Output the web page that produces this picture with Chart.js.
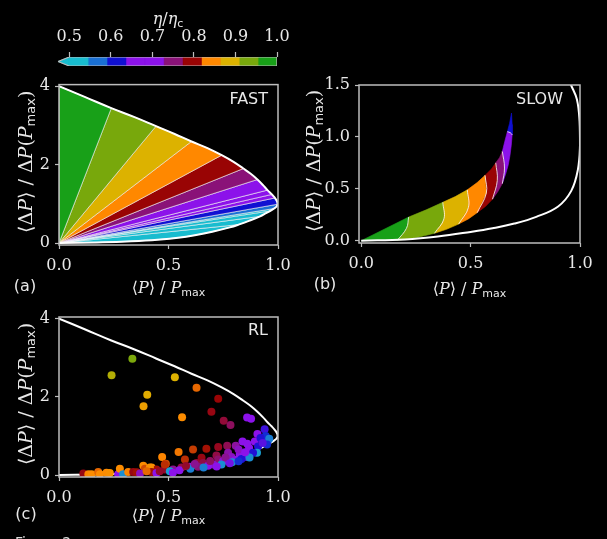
<!DOCTYPE html>
<html>
<head>
<meta charset="utf-8">
<script src="https://cdn.jsdelivr.net/npm/chart.js@4.4.1/dist/chart.umd.min.js"></script>
<style>
  html, body { margin: 0; padding: 0; background: #000; width: 607px; height: 539px; overflow: hidden; }
  canvas { position: absolute; }
  #foot { position: absolute; left: 15px; top: 534px; color: #ddd; font: 14px "DejaVu Sans"; line-height: 16px; }
</style>
</head>
<body>
<canvas id="cbar" width="300" height="75" style="left:0;top:0"></canvas>
<canvas id="fast" width="300" height="235" style="left:0;top:70px"></canvas>
<canvas id="slow" width="307" height="235" style="left:300px;top:70px"></canvas>
<canvas id="rl" width="300" height="239" style="left:0;top:300px"></canvas>
<div id="foot">Figure 2</div>
<script>
// eta / eta_c colour bins (11 bins, extended below 0.5)
const etaEdges = [0.5, 0.5455, 0.5909, 0.6364, 0.6818, 0.7273, 0.7727, 0.8182, 0.8636, 0.9091, 0.9545, 1.0];
const binColors = ['#18bccf', '#1a70d4', '#1010d2', '#8c12ea', '#8c12ea', '#8a1278', '#990404', '#ff8800', '#dcb200', '#78a80c', '#18a018'];
const cbarTicks = [0.5, 0.6, 0.7, 0.8, 0.9, 1.0];

// FAST: frontier read from (0,4) round the nose to (0,0)
const fastP = [0, 0.12, 0.239, 0.345, 0.443, 0.528, 0.605, 0.678, 0.743, 0.797, 0.842, 0.877, 0.906, 0.931, 0.952, 0.972, 0.986, 0.995, 0.998, 0.993,
  0.982, 0.965, 0.945, 0.918, 0.87, 0.82, 0.78, 0.70, 0.62, 0.553, 0.45, 0.33, 0.2, 0];
const fastD = [4, 3.72, 3.44, 3.21, 2.98, 2.78, 2.59, 2.42, 2.24, 2.07, 1.90, 1.76, 1.62, 1.48, 1.35, 1.24, 1.15, 1.07, 0.99, 0.93,
  0.88, 0.82, 0.76, 0.68, 0.57, 0.47, 0.40, 0.29, 0.20, 0.14, 0.085, 0.045, 0.018, 0];
// wedge edges (indices into the frontier) and the colour bin of each wedge
const fastCuts = [0, 2, 4, 6, 8, 10, 12, 14, 15, 16, 18, 20, 21, 23, 25, 33];
const fastBins = [10, 9, 8, 7, 6, 5, 4, 4, 3, 2, 1, 0, 0, 0, 0];
const fastXTicks = [0, 0.5, 1];
const fastYTicks = [0, 2, 4];

// SLOW: frontier
const slowFrontP = [0, 0.2, 0.35, 0.5, 0.6, 0.7, 0.8, 0.9, 0.96, 0.99, 1.0, 0.998, 0.986, 0.959, 0.93];
const slowFrontD = [0, 0.012, 0.04, 0.085, 0.12, 0.165, 0.23, 0.33, 0.48, 0.68, 0.92, 1.15, 1.36, 1.5, 1.65];
// SLOW: upper and lower edge of the coloured lens, origin to tip
const slowUpP = [0, 0.217, 0.30, 0.373, 0.43, 0.485, 0.53, 0.566, 0.595, 0.615, 0.632, 0.645, 0.656, 0.668, 0.678, 0.687];
const slowUpD = [0, 0.228, 0.30, 0.37, 0.425, 0.49, 0.56, 0.63, 0.69, 0.75, 0.80, 0.86, 0.955, 1.05, 1.13, 1.23];
const slowLoP = [0, 0.165, 0.255, 0.335, 0.39, 0.445, 0.49, 0.53, 0.568, 0.60, 0.625, 0.645, 0.66, 0.672, 0.68, 0.686, 0.69, 0.69, 0.687];
const slowLoD = [0, 0.004, 0.03, 0.072, 0.11, 0.16, 0.21, 0.27, 0.33, 0.40, 0.475, 0.55, 0.64, 0.73, 0.82, 0.92, 1.02, 1.12, 1.23];
// band edges: index on upper edge, index on lower edge, middle point of the white arc
const slowCutUp = [0, 1, 3, 5, 7, 9, 11, 13, 15];
const slowCutLo = [0, 1, 3, 5, 7, 9, 11, 16, 18];
const arcMidP = [0.207, 0.378, 0.49, 0.572, 0.622, 0.655, 0.682];
const arcMidD = [0.12, 0.21, 0.32, 0.46, 0.58, 0.70, 1.04];
const slowBins = [10, 9, 8, 7, 6, 5, 4, 2];
const slowXTicks = [0, 0.5, 1];
const slowYTicks = [0, 0.5, 1, 1.5];

// RL: protocols found by the agent
const rlP = [0.335, 0.24, 0.529, 0.403, 0.386, 0.628, 0.562, 0.727, 0.696, 0.752, 0.783, 0.859, 0.877, 0.939, 0.906, 0.944, 0.954, 0.93, 0.838, 0.894,
  0.471, 0.546, 0.612, 0.673, 0.727, 0.768, 0.807, 0.868, 0.909, 0.904, 0.575, 0.651, 0.719, 0.772, 0.787, 0.727, 0.825, 0.856, 0.886, 0.488,
  0.423, 0.628, 0.658, 0.704, 0.749, 0.803, 0.833, 0.87, 0.445, 0.483, 0.521, 0.559, 0.597, 0.635, 0.681, 0.506, 0.742, 0.60, 0.79, 0.55,
  0.111, 0.134, 0.149, 0.179, 0.187, 0.217, 0.232, 0.27, 0.278, 0.293, 0.316, 0.339, 0.355, 0.385, 0.392, 0.415, 0.423, 0.445, 0.483, 0.46,
  0.52, 0.37, 0.40, 0.92, 0.96, 0.95, 0.93, 0.86, 0.82, 0.85, 0.76, 0.69, 0.62, 0.58, 0.66, 0.72, 0.78, 0.82];
const rlD = [2.97, 2.55, 2.50, 2.05, 1.76, 2.23, 1.48, 1.95, 1.62, 1.39, 1.28, 1.47, 1.44, 1.17, 1.05, 1.00, 0.88, 0.90, 0.86, 0.86,
  0.46, 0.59, 0.65, 0.67, 0.72, 0.75, 0.75, 0.69, 0.73, 0.57, 0.40, 0.44, 0.50, 0.57, 0.46, 0.40, 0.52, 0.46, 0.57, 0.29,
  0.19, 0.31, 0.31, 0.27, 0.35, 0.38, 0.41, 0.45, 0.14, 0.14, 0.14, 0.19, 0.21, 0.21, 0.24, 0.10, 0.27, 0.16, 0.33, 0.12,
  0.04, 0.02, 0.02, 0.08, 0.02, 0.06, 0.05, 0.02, 0.16, 0.02, 0.08, 0.08, 0.07, 0.24, 0.16, 0.19, 0.08, 0.05, 0.27, 0.10,
  0.06, 0.04, 0.10, 0.95, 0.93, 0.78, 0.82, 0.80, 0.65, 0.58, 0.45, 0.36, 0.28, 0.23, 0.19, 0.22, 0.30, 0.35];
const rlEta = [0.93, 0.905, 0.885, 0.88, 0.865, 0.83, 0.845, 0.795, 0.79, 0.775, 0.76, 0.69, 0.69, 0.63, 0.68, 0.60, 0.57, 0.60, 0.70, 0.67,
  0.84, 0.835, 0.815, 0.80, 0.785, 0.765, 0.735, 0.69, 0.62, 0.54, 0.81, 0.79, 0.77, 0.73, 0.72, 0.755, 0.70, 0.64, 0.62, 0.82,
  0.845, 0.78, 0.77, 0.72, 0.71, 0.69, 0.62, 0.55, 0.80, 0.78, 0.74, 0.77, 0.71, 0.75, 0.70, 0.54, 0.55, 0.56, 0.55, 0.69,
  0.79, 0.84, 0.845, 0.83, 0.845, 0.845, 0.85, 0.70, 0.845, 0.55, 0.84, 0.79, 0.80, 0.845, 0.82, 0.85, 0.80, 0.70, 0.81, 0.78,
  0.70, 0.72, 0.83, 0.62, 0.56, 0.60, 0.64, 0.68, 0.72, 0.70, 0.74, 0.76, 0.74, 0.78, 0.56, 0.68, 0.65, 0.60];
const rlXTicks = [0, 0.5, 1];
const rlYTicks = [0, 2, 4];

// ---- helpers ----
const AXIS = '#bdbdbd';
const TXT = '#e8e8e8';
const SERIF = '16px "DejaVu Serif"';
const ITAL = 'italic 16px "DejaVu Serif"';
const SUB = '11px "DejaVu Sans"';
const YSERIF = '19px "DejaVu Serif"';
const YITAL = 'italic 19px "DejaVu Serif"';
const YSUB = '13px "DejaVu Sans"';

function pts(xs, ys) { return xs.map((x, i) => ({ x: x, y: ys[i] })); }

function hexRgb(h) { return [1, 3, 5].map(i => parseInt(h.substr(i, 2), 16)); }
function etaColor(e) {
  const c = etaEdges.slice(0, -1).map((v, i) => (v + etaEdges[i + 1]) / 2);
  if (e <= c[0]) return binColors[0];
  for (let i = 0; i < c.length - 1; i++) {
    if (e <= c[i + 1]) {
      const t = (e - c[i]) / (c[i + 1] - c[i]);
      const a = hexRgb(binColors[i]), b = hexRgb(binColors[i + 1]);
      return 'rgb(' + a.map((v, k) => Math.round(v + (b[k] - v) * t)).join(',') + ')';
    }
  }
  return binColors[binColors.length - 1];
}

function poly(data, color, edge) {
  return { data: data, showLine: true, fill: 'shape', backgroundColor: color, borderColor: edge || color,
    borderWidth: edge ? 0.7 : 0.6, pointRadius: 0, order: 2 };
}
function curve(data, width) {
  return { data: data, showLine: true, fill: false, borderColor: '#ffffff', borderWidth: width || 2, tension: 0.4, pointRadius: 0, order: 1 };
}

function rich(ctx, parts, x, y, rot) {
  ctx.save();
  ctx.translate(x, y);
  ctx.rotate(rot || 0);
  ctx.textBaseline = 'middle';
  ctx.fillStyle = TXT;
  let w = 0;
  parts.forEach(p => { ctx.font = p[1]; w += ctx.measureText(p[0]).width; });
  let cx = -w / 2;
  parts.forEach(p => {
    ctx.font = p[1];
    ctx.fillText(p[0], cx, p[2] || 0);
    cx += ctx.measureText(p[0]).width;
  });
  ctx.restore();
}

const xTitle = [['⟨', SERIF], ['P', ITAL], ['⟩', SERIF], [' / ', SERIF], ['P', ITAL], ['max', SUB, 4]];
const yTitle = [['⟨', YSERIF], ['Δ', YSERIF], ['P', YITAL], ['⟩', YSERIF], [' / ', YSERIF], ['Δ', YSERIF], ['P', YITAL], ['(', YSERIF], ['P', YITAL], ['max', YSUB, 5], [')', YSERIF]];

function decor(o) {
  return {
    id: 'decor',
    afterDraw(chart) {
      const a = chart.chartArea, c = chart.ctx;
      c.save();
      c.strokeStyle = AXIS;
      c.lineWidth = 1.5;
      c.strokeRect(a.left, a.top, a.right - a.left, a.bottom - a.top);
      c.restore();
      rich(c, xTitle, (a.left + a.right) / 2, o.xTitleY);
      rich(c, yTitle, o.yTitleX, (a.top + a.bottom) / 2 - 3, -Math.PI / 2);
      c.save();
      c.fillStyle = TXT;
      c.textBaseline = 'middle';
      c.font = '16px "DejaVu Sans"';
      c.textAlign = 'center';
      c.fillText(o.tag, o.tagX, o.tagY);
      c.textAlign = 'right';
      c.fillText(o.name, o.nameX, o.nameY);
      c.restore();
    }
  };
}

function panel(id, datasets, o) {
  return new Chart(document.getElementById(id), {
    type: 'scatter',
    data: { datasets: datasets },
    options: {
      responsive: false, animation: false, events: [],
      layout: { padding: o.pad },
      plugins: { legend: { display: false }, tooltip: { enabled: false } },
      scales: {
        x: {
          type: 'linear', min: o.xr[0], max: o.xr[1],
          afterFit(s) { s.height = 40; },
          afterBuildTicks(s) { s.ticks = o.xt.map(v => ({ value: v })); },
          grid: { drawOnChartArea: false, color: AXIS, tickLength: 4, tickWidth: 1.2 },
          border: { display: false },
          ticks: { color: TXT, font: { family: 'DejaVu Serif', size: 16 }, padding: 7, maxRotation: 0, callback: v => v.toFixed(1) }
        },
        y: {
          type: 'linear', min: o.yr[0], max: o.yr[1],
          afterFit(s) { s.width = 40; },
          afterBuildTicks(s) { s.ticks = o.yt.map(v => ({ value: v })); },
          grid: { drawOnChartArea: false, color: AXIS, tickLength: 4, tickWidth: 1.2 },
          border: { display: false },
          ticks: { color: TXT, font: { family: 'DejaVu Serif', size: 16 }, padding: 5, callback: o.yfmt }
        }
      }
    },
    plugins: [decor(o)]
  });
}

// ---- colour bar ----
const cbarSets = binColors.map((col, i) => {
  const lo = etaEdges[i], hi = etaEdges[i + 1];
  return poly([{ x: lo, y: 0 }, { x: hi, y: 0 }, { x: hi, y: 1 }, { x: lo, y: 1 }, { x: lo, y: 0 }], col);
});
const tip = 0.473;
cbarSets.push(poly([{ x: etaEdges[0], y: 0 }, { x: tip, y: 0.5 }, { x: etaEdges[0], y: 1 }, { x: etaEdges[0], y: 0 }], binColors[0]));
cbarSets.push({ data: [{ x: tip, y: 0.5 }, { x: etaEdges[0], y: 1 }, { x: 1, y: 1 }, { x: 1, y: 0 }, { x: etaEdges[0], y: 0 }, { x: tip, y: 0.5 }],
  showLine: true, fill: false, borderColor: AXIS, borderWidth: 1.2, pointRadius: 0, order: 0 });

new Chart(document.getElementById('cbar'), {
  type: 'scatter',
  data: { datasets: cbarSets },
  options: {
    responsive: false, animation: false, events: [],
    layout: { padding: { left: 56.8, right: 23, top: 0, bottom: 9 } },
    plugins: { legend: { display: false }, tooltip: { enabled: false } },
    scales: {
      x: {
        type: 'linear', position: 'top', min: 0.47, max: 1.0,
        afterFit(s) { s.height = 57; },
        afterBuildTicks(s) { s.ticks = cbarTicks.map(v => ({ value: v })); },
        grid: { drawOnChartArea: false, color: AXIS, tickLength: 5, tickWidth: 1.2 },
        border: { display: false },
        ticks: { color: TXT, font: { family: 'DejaVu Serif', size: 16 }, padding: 6, maxRotation: 0, callback: v => v.toFixed(1) }
      },
      y: { display: false, min: 0, max: 1 }
    }
  },
  plugins: [{
    id: 'cbtitle',
    afterDraw(chart) {
      rich(chart.ctx, [['η', ITAL], ['/', SERIF], ['η', ITAL], ['c', SUB, 4]], 168, 20);
    }
  }]
});

// ---- (a) FAST ----
const fastFront = pts(fastP, fastD);
const fastSets = [curve(fastFront)];
fastBins.forEach((b, i) => {
  const seg = fastFront.slice(fastCuts[i], fastCuts[i + 1] + 1);
  fastSets.push(poly([{ x: 0, y: 0 }].concat(seg, [{ x: 0, y: 0 }]), binColors[b], 'rgba(255,255,255,0.85)'));
});
panel('fast', fastSets, {
  pad: { left: 19, top: 14.5, right: 22, bottom: 20 }, xr: [0, 1], yr: [-0.05, 4.04], xt: fastXTicks, yt: fastYTicks,
  yfmt: v => String(v), xTitleY: 219, yTitleX: 27, tag: '(a)', tagX: 25, tagY: 217, name: 'FAST', nameX: 268, nameY: 30
});

// ---- (b) SLOW ----
const up = pts(slowUpP, slowUpD), lo = pts(slowLoP, slowLoD);
const slowSets = [curve(pts(slowFrontP, slowFrontD))];
slowBins.forEach((b, k) => {
  let d = up.slice(slowCutUp[k], slowCutUp[k + 1] + 1);
  if (k + 1 < slowCutUp.length - 1) d.push({ x: arcMidP[k], y: arcMidD[k] });
  d = d.concat(lo.slice(slowCutLo[k], slowCutLo[k + 1] + 1).reverse());
  if (k > 0) d.push({ x: arcMidP[k - 1], y: arcMidD[k - 1] });
  d.push(d[0]);
  slowSets.push(poly(d, binColors[b]));
});
// white arcs between the bands
arcMidP.forEach((m, j) => {
  slowSets.push(curve([up[slowCutUp[j + 1]], { x: m, y: arcMidD[j] }, lo[slowCutLo[j + 1]]], 0.8));
});
panel('slow', slowSets, {
  pad: { left: 19, top: 15, right: 27, bottom: 22 }, xr: [-0.01, 1], yr: [-0.022, 1.5], xt: slowXTicks, yt: slowYTicks,
  yfmt: v => v.toFixed(1), xTitleY: 220, yTitleX: 15, tag: '(b)', tagX: 25, tagY: 215, name: 'SLOW', nameX: 263, nameY: 30
});

// ---- (c) RL ----
const rlSets = [
  { data: pts(rlP, rlD), pointRadius: 4, pointBorderWidth: 0, pointBackgroundColor: rlEta.map(etaColor), order: 0 },
  curve(pts(fastP, fastD))
];
panel('rl', rlSets, {
  pad: { left: 19, top: 17, right: 22, bottom: 22 }, xr: [0, 1], yr: [-0.05, 4.04], xt: rlXTicks, yt: rlYTicks,
  yfmt: v => String(v), xTitleY: 217, yTitleX: 27, tag: '(c)', tagX: 26, tagY: 215, name: 'RL', nameX: 268, nameY: 31
});
</script>
</body>
</html>
